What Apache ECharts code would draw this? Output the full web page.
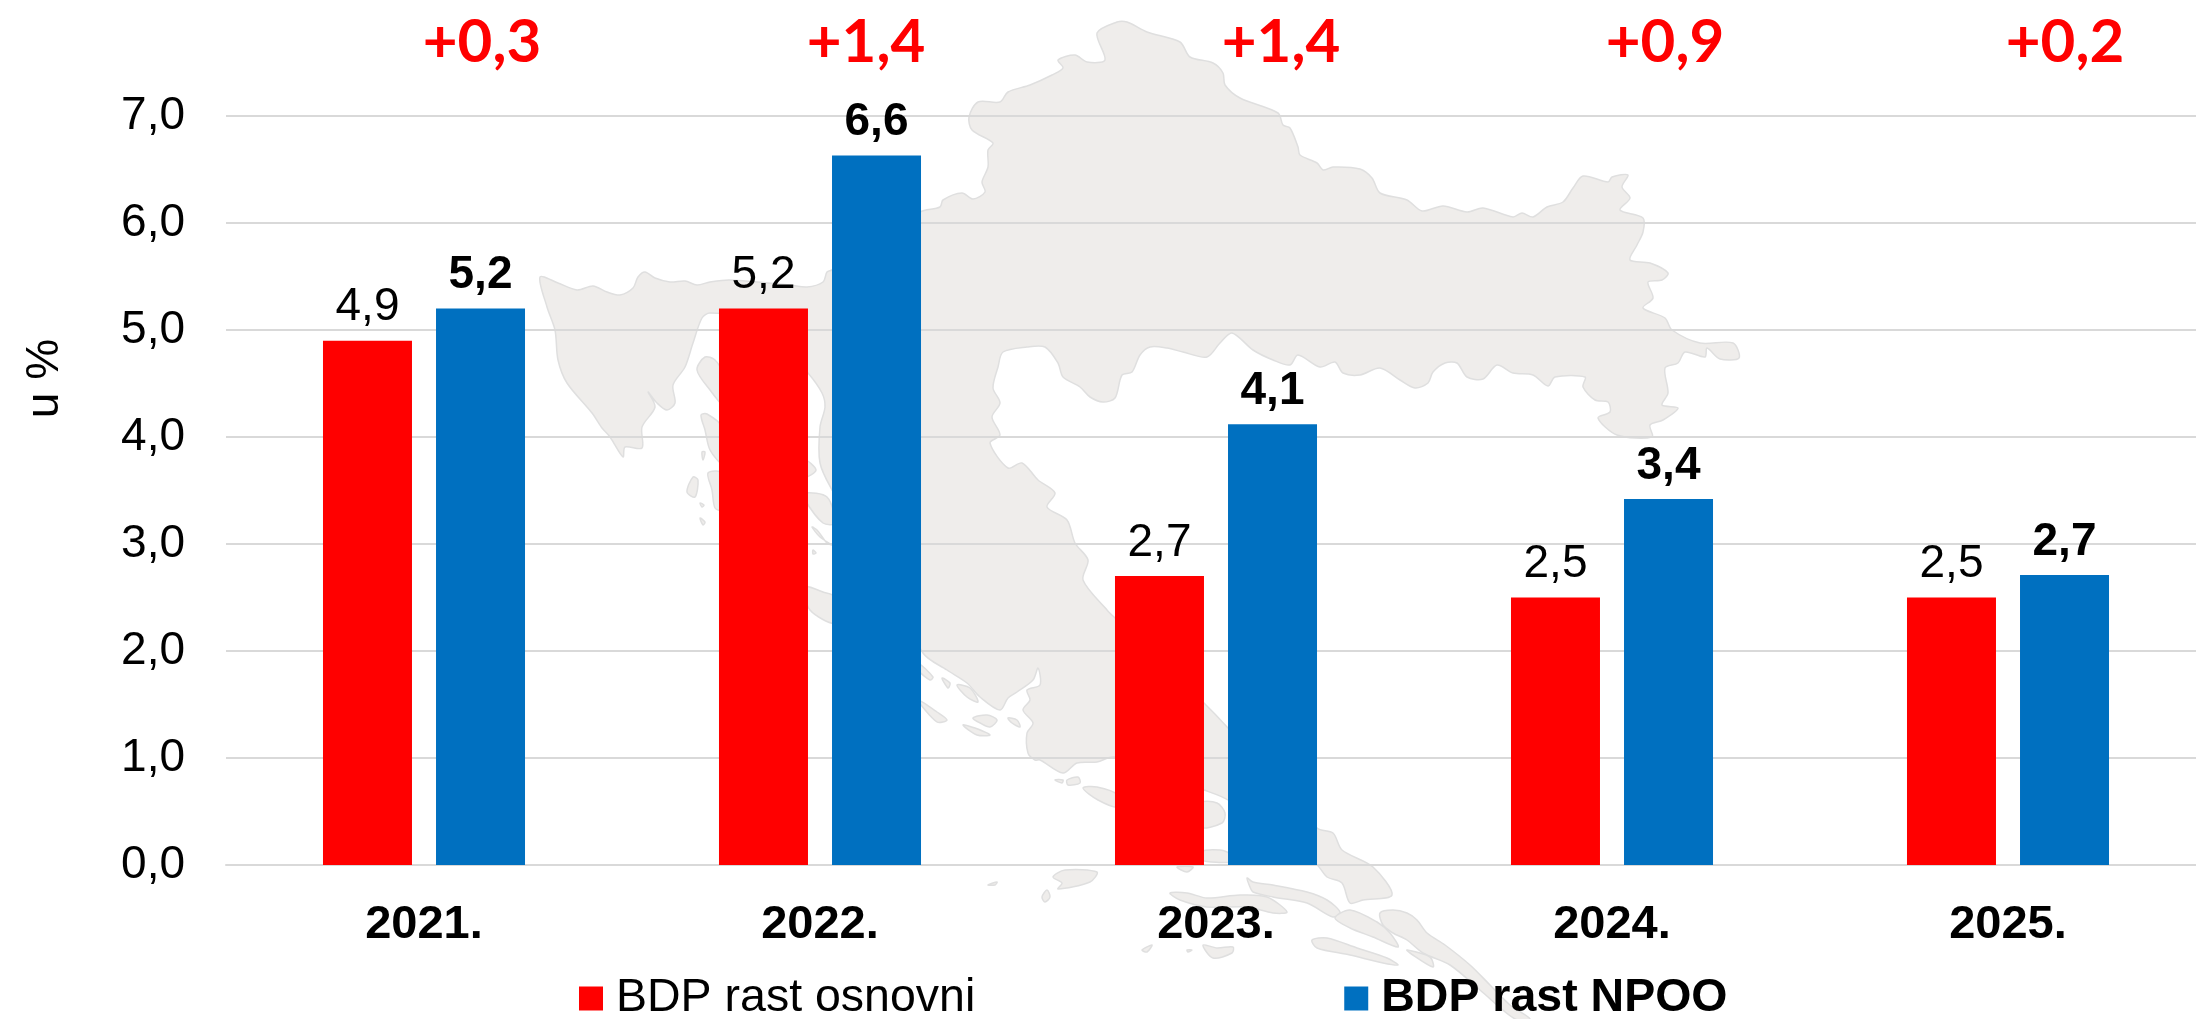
<!DOCTYPE html>
<html>
<head>
<meta charset="utf-8">
<style>
  html, body { margin: 0; padding: 0; background: #fff; overflow: hidden; }
  /* a bit wider than the window: the last gridlines run off the right edge */
  #chart { width: 2206px; height: 1019px; }
</style>
</head>
<body>
<div id="chart"></div>
<script src="https://cdn.jsdelivr.net/npm/echarts@6/dist/echarts.min.js"></script>
<script>
const years = ['2021.', '2022.', '2023.', '2024.', '2025.']
const baseName = 'BDP rast osnovni'
const npooName = 'BDP rast NPOO'
const baseValues = [4.9, 5.2, 2.7, 2.5, 2.5]
const npooValues = [5.2, 6.63, 4.12, 3.42, 2.71]
const diffLabels = ['+0,3', '+1,4', '+1,4', '+0,9', '+0,2']
const diffX = [482, 866, 1281, 1665, 2065]

// background map of Croatia, traced by hand (mainland first, then islands)
const mapShapes = [
  [[540,277],[558,283],[577,290],[593,286],[607,292],[620,295],[633,288],[638,277],[645,272],[655,278],[670,282],[685,281],[697,285],[710,282],[730,280],[790,285],[807,287],[823,282],[827,272],[832,270],
   [920,212],[940,207],[943,200],[962,193],[973,199],[985,192],[982,182],[988,167],[988,150],[993,143],[972,130],[969,117],[978,102],[1000,102],[1008,92],[1030,85],[1052,75],[1063,68],[1058,60],[1075,55],[1087,62],[1105,60],[1097,33],[1117,22],[1127,22],[1147,32],[1180,42],[1190,57],[1213,63],[1223,73],[1225,85],[1240,98],[1278,113],[1283,125],[1290,128],[1298,147],
   [1300,155],[1317,163],[1323,170],[1333,167],[1360,169],[1372,178],[1380,193],[1407,200],[1422,211],[1443,206],[1467,212],[1483,208],[1513,217],[1522,213],[1533,217],[1547,207],[1563,202],[1573,188],[1583,176],[1608,182],[1612,177],[1628,175],[1622,187],[1630,198],[1620,210],[1643,218],[1643,232],[1637,245],[1630,260],[1650,263],[1668,273],[1662,280],[1648,282],[1653,298],[1643,308],[1665,318],[1672,330],[1700,343],[1733,343],[1739,358],[1720,359],[1707,348],[1705,357],[1685,352],[1678,363],[1665,368],[1668,393],[1662,405],[1678,408],[1663,420],[1650,425],[1652,437],
   [1617,435],[1598,418],[1610,412],[1608,402],[1595,400],[1583,387],[1585,377],[1555,377],[1548,386],[1533,375],[1513,373],[1497,365],[1483,379],[1467,377],[1457,363],[1445,363],[1433,372],[1428,383],[1415,388],[1400,380],[1380,368],[1360,375],[1343,373],[1335,362],[1320,367],
   [1298,355],[1290,365],[1273,360],[1253,350],[1232,333],[1220,343],[1207,357],[1183,352],[1167,348],[1150,347],[1140,355],[1132,372],[1122,375],[1115,398],[1103,402],[1090,397],[1080,387],[1063,377],[1058,363],[1045,347],[1027,347],[1003,352],[998,367],[993,388],[1000,403],[992,417],[1000,435],[990,443],[1008,468],[1022,463],[1038,480],[1055,493],[1047,507],[1067,520],[1075,543],[1088,560],[1083,580],[1107,610],[1115,618],
   [1204,703],[1228,728],[1317,828],[1333,833],[1342,850],[1373,867],[1392,895],[1363,900],[1350,903],[1342,883],[1327,877],[1317,865],[1228,800],[1204,790],
   [1115,757],[1097,762],[1077,763],[1063,773],[1040,760],[1035,760],[1028,753],[1027,733],[1033,723],[1023,710],[1030,700],[1027,690],[1040,685],[1038,668],[1033,680],[1017,692],[1008,698],[1000,710],[980,697],[967,683],[947,670],[923,653],
   [832,490],[820,463],[820,427],[825,407],[822,393],[808,373],[760,320],[710,313],[702,318],[693,343],[685,367],[673,385],[675,403],[667,410],[657,403],[648,392],[655,407],[642,427],[642,448],[625,447],[623,457],[610,437],[602,428],[592,413],[567,383],[558,360],[555,330],[547,307]],
  [[697,370],[705,357],[715,360],[722,373],[722,403],[710,390]],
  [[701,415],[707,414],[722,427],[722,463],[710,450],[705,430]],
  [[708,473],[722,473],[722,510],[715,508],[712,490]],
  [[693,477],[698,480],[695,497],[687,492]],
  [[700,518],[705,522],[703,525]],
  [[700,503],[704,505],[702,507]],
  [[702,452],[705,452],[703,460]],
  [[805,460],[816,470],[805,477]],
  [[805,493],[827,497],[835,523],[823,523],[805,500]],
  [[812,527],[817,530],[827,543],[832,545],[820,537]],
  [[813,550],[816,553],[813,554]],
  [[805,587],[823,592],[835,597],[835,623],[810,610]],
  [[918,663],[933,677],[930,680],[918,670]],
  [[942,678],[950,683],[948,688]],
  [[957,685],[970,688],[978,702],[967,697]],
  [[918,700],[937,712],[947,720],[937,722]],
  [[973,718],[987,715],[997,720],[990,727],[980,723]],
  [[963,725],[975,728],[990,735],[977,735]],
  [[1008,718],[1017,720],[1020,727],[1012,723]],
  [[1055,780],[1063,780],[1062,783]],
  [[1067,780],[1078,777],[1080,783],[1068,785]],
  [[988,885],[997,882],[995,885]],
  [[1042,897],[1047,890],[1050,897],[1045,902]],
  [[1053,877],[1065,870],[1097,872],[1090,882],[1058,889],[1062,883]],
  [[1083,788],[1097,787],[1118,795],[1118,807],[1098,800]],
  [[1200,803],[1217,803],[1225,813],[1222,823],[1200,827]],
  [[1200,852],[1220,850],[1232,855],[1232,862],[1200,860]],
  [[1177,867],[1193,867],[1187,872]],
  [[1170,893],[1187,893],[1207,898],[1240,895],[1267,897],[1287,912],[1273,913],[1247,907],[1207,907],[1180,900]],
  [[1247,878],[1253,882],[1273,885],[1307,892],[1327,900],[1340,912],[1333,917],[1307,903],[1273,897],[1253,892],[1250,887]],
  [[1335,918],[1350,910],[1377,922],[1390,933],[1398,947],[1373,937],[1350,928]],
  [[1380,913],[1393,910],[1407,913],[1417,920],[1427,933],[1445,945],[1470,965],[1490,985],[1510,1005],[1530,1019],[1515,1019],[1480,990],[1450,965],[1423,953],[1407,940],[1393,933],[1383,925]],
  [[1312,940],[1327,938],[1357,948],[1387,958],[1398,965],[1383,963],[1350,955],[1317,948]],
  [[1203,945],[1217,948],[1233,947],[1232,953],[1213,958]],
  [[1142,950],[1152,945],[1147,952]],
  [[1187,950],[1192,950],[1188,952]],
  [[1407,950],[1430,957],[1433,967],[1410,953]]
]

const fontName = '"Liberation Sans", Arial, sans-serif'
const comma = (v) => v.toFixed(1).replace('.', ',')

const chart = echarts.init(document.getElementById('chart'))

const mapGraphics = mapShapes.map((pts) => ({
  type: 'polygon',
  silent: true,
  z: -1,
  shape: { points: pts, smooth: 0.3 },
  style: { fill: '#EFEDEB', stroke: '#DFDFDF', lineWidth: 1.5 }
}))

const diffGraphics = diffLabels.map((txt, i) => ({
  type: 'text',
  silent: true,
  z: 10,
  x: diffX[i],
  y: 43,
  style: {
    text: txt,
    fill: '#FF0000',
    font: 'bold 60px Lato, sans-serif',
    textAlign: 'center',
    textVerticalAlign: 'middle'
  }
}))

chart.setOption({
  animation: false,
  backgroundColor: '#fff',
  textStyle: { fontFamily: fontName },
  grid: { left: 226, right: 0, top: 116, height: 749 },
  legend: {
    left: 579,
    top: 975,
    padding: 0,
    itemWidth: 24,
    itemHeight: 24,
    itemGap: 369,
    icon: 'rect',
    textStyle: { fontFamily: fontName, fontSize: 46.5, color: '#000', padding: [0, 0, 0, 8] },
    data: [
      { name: baseName, textStyle: { fontWeight: 'normal' } },
      { name: npooName, textStyle: { fontWeight: 'bold' } }
    ]
  },
  xAxis: {
    type: 'category',
    data: years,
    axisTick: { show: false },
    axisLine: { lineStyle: { color: '#D9D9D9', width: 2 } },
    axisLabel: { fontFamily: fontName, fontSize: 47, fontWeight: 'bold', color: '#000', margin: 37, interval: 0 }
  },
  yAxis: {
    type: 'value',
    min: 0,
    max: 7,
    interval: 1,
    name: 'u %',
    nameLocation: 'middle',
    nameRotate: 90,
    nameGap: 158,
    nameTextStyle: { fontFamily: fontName, fontSize: 46, color: '#000', padding: [0, 0, 0, 224] },
    axisLine: { show: false },
    axisTick: { show: false },
    axisLabel: { fontFamily: fontName, fontSize: 46, color: '#000', margin: 41, formatter: (v) => comma(v) },
    splitLine: { lineStyle: { color: '#D9D9D9', width: 2 } }
  },
  series: [
    {
      name: baseName,
      type: 'bar',
      data: baseValues,
      barWidth: 89,
      barGap: '27%',
      itemStyle: { color: '#FF0000' },
      label: {
        show: true,
        position: 'top',
        distance: 10,
        fontFamily: fontName,
        fontSize: 46,
        color: '#000',
        formatter: (p) => comma(p.value)
      }
    },
    {
      name: npooName,
      type: 'bar',
      data: npooValues,
      barWidth: 89,
      barGap: '27%',
      itemStyle: { color: '#0070C0' },
      label: {
        show: true,
        position: 'top',
        distance: 10,
        fontFamily: fontName,
        fontSize: 46,
        fontWeight: 'bold',
        color: '#000',
        formatter: (p) => comma(p.value)
      }
    }
  ],
  graphic: mapGraphics.concat(diffGraphics)
})
</script>
</body>
</html>
